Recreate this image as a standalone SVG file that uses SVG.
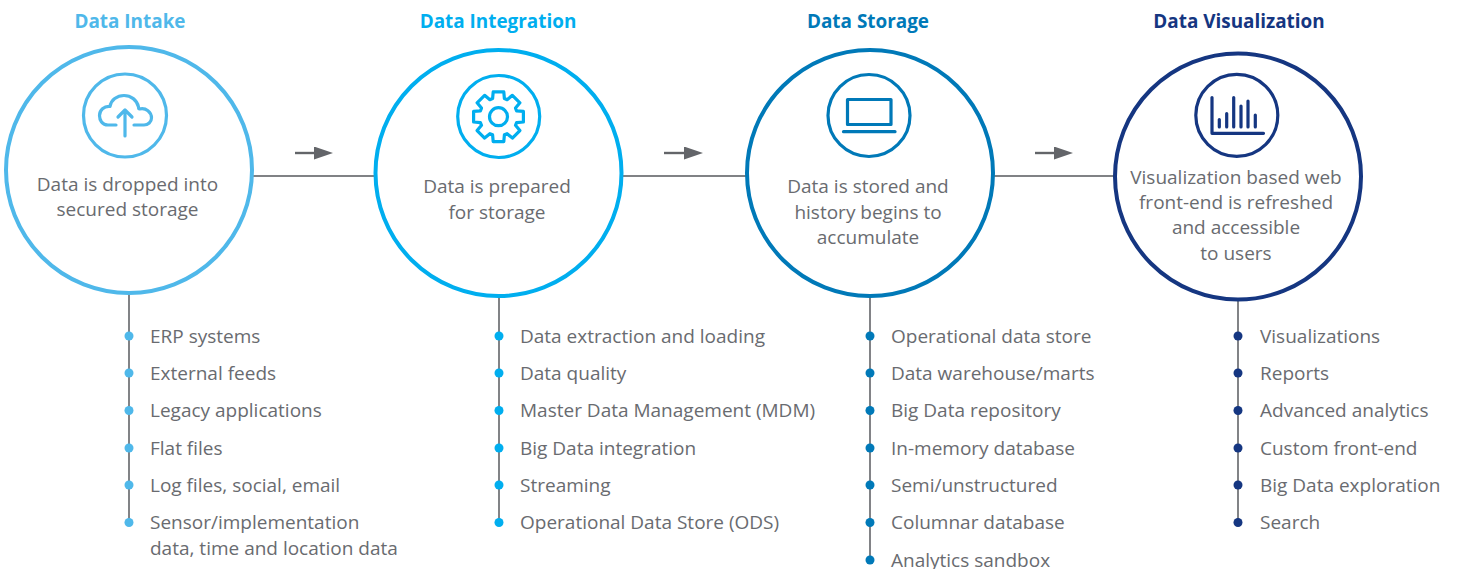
<svg xmlns="http://www.w3.org/2000/svg" width="1457" height="569" viewBox="0 0 1457 569">
<style>
text{font-family:"Open Sans","Noto Sans",sans-serif;fill:#696b70;font-size:19px}
.t{font-weight:700;text-anchor:middle;font-size:18.9px}
.c{text-anchor:middle}
.big{fill:#fff;stroke-width:4}
.ico{fill:none;stroke-width:3.2;stroke-linecap:round;stroke-linejoin:round}
.line{stroke:#808285;stroke-width:2;fill:none}
.vl{stroke:#636569;stroke-width:1.6;fill:none}
.a{stroke:#636569;stroke-width:2.4;fill:none}
.n1{color:#4fb8ea}.n2{color:#00aeef}.n3{color:#0079b8}.n4{color:#153681}
.n1 .big,.n2 .big,.n3 .big,.n4 .big,.n1 .ico,.n2 .ico,.n3 .ico,.n4 .ico{stroke:currentColor}
.n1 .t,.n2 .t,.n3 .t,.n4 .t{fill:currentColor}
.n1 .d,.n2 .d,.n3 .d,.n4 .d{fill:currentColor}
</style>
<defs><marker id="ah" markerUnits="userSpaceOnUse" markerWidth="20" markerHeight="14" refX="0" refY="6.5" orient="auto"><path d="M0 0L19 6.5L0 13Z" fill="#636569"/></marker></defs>
<g id="connectors">
<path class="line" d="M253 176H375M622 176H746M994 176H1114"/>
<path class="vl" d="M129 295V523M499 297V523M870 297V560M1238 300V523"/>
<path class="a" marker-end="url(#ah)" d="M295 153H314"/>
<path class="a" marker-end="url(#ah)" d="M664 153H684"/>
<path class="a" marker-end="url(#ah)" d="M1035 153H1054"/>
</g>
<g id="node-intake" class="n1">
<text class="t" x="130" y="28">Data Intake</text>
<circle class="big" cx="129" cy="170" r="123"/>
<circle class="ico" cx="125" cy="115.500" r="41.500"/>
<path class="ico" d="M116 125H108C102 125 99.500 120 99.500 115.500C99.500 110 104 106 110 106.500C111 100 117 95.500 124 95.500C131 95.500 137 100 138.500 107C138.500 108 139 109 139.500 109C146 107.500 151.500 112 151.500 118C151.500 122 148 125 144 125H134M125 136V110M118 117L125 110L132 117"/>
<text class="c" x="127.500" y="191">Data is dropped into</text>
<text class="c" x="127.500" y="216">secured storage</text>
<g class="d"><circle cx="129" cy="336" r="4.500"/><circle cx="129" cy="373" r="4.500"/><circle cx="129" cy="410.500" r="4.500"/><circle cx="129" cy="448" r="4.500"/><circle cx="129" cy="485" r="4.500"/><circle cx="129" cy="522.500" r="4.500"/></g>
<text x="150" y="343">ERP systems</text>
<text x="150" y="380">External feeds</text>
<text x="150" y="417">Legacy applications</text>
<text x="150" y="455">Flat files</text>
<text x="150" y="492">Log files, social, email</text>
<text x="150" y="529">Sensor/implementation</text>
<text x="150" y="555">data, time and location data</text>
</g>
<g id="node-integration" class="n2">
<text class="t" x="498" y="28">Data Integration</text>
<circle class="big" cx="498.500" cy="173" r="123"/>
<circle class="ico" cx="498.700" cy="116.500" r="41"/>
<path class="ico" transform="translate(498.500 116.700)" d="M-5.900 -18.100L-5.300 -24.900H5.300L5.900 -18.100L8.600 -17L13.900 -21.400L21.400 -13.900L17 -8.600L18.100 -5.900L24.900 -5.300V5.300L18.100 5.900L17 8.600L21.400 13.900L13.900 21.400L8.600 17L5.900 18.100L5.300 24.900H-5.300L-5.900 18.100L-8.600 17L-13.900 21.400L-21.400 13.900L-17 8.600L-18.100 5.900L-24.900 5.300V-5.300L-18.100 -5.900L-17 -8.600L-21.400 -13.900L-13.900 -21.400L-8.600 -17Z"/>
<circle class="ico" cx="498.500" cy="116.700" r="9"/>
<text class="c" x="497" y="193">Data is prepared</text>
<text class="c" x="497" y="219">for storage</text>
<g class="d"><circle cx="499" cy="336" r="4.500"/><circle cx="499" cy="373" r="4.500"/><circle cx="499" cy="410.500" r="4.500"/><circle cx="499" cy="448" r="4.500"/><circle cx="499" cy="485" r="4.500"/><circle cx="499" cy="522.500" r="4.500"/></g>
<text x="520" y="343">Data extraction and loading</text>
<text x="520" y="380">Data quality</text>
<text x="520" y="417">Master Data Management (MDM)</text>
<text x="520" y="455">Big Data integration</text>
<text x="520" y="492">Streaming</text>
<text x="520" y="529">Operational Data Store (ODS)</text>
</g>
<g id="node-storage" class="n3">
<text class="t" x="868" y="28">Data Storage</text>
<circle class="big" cx="870" cy="173" r="123"/>
<circle class="ico" cx="869" cy="115.500" r="41"/>
<rect class="ico" x="847.500" y="99.500" width="43.500" height="25"/>
<path class="ico" d="M843.500 131.700H895"/>
<text class="c" x="868" y="193">Data is stored and</text>
<text class="c" x="868" y="219">history begins to</text>
<text class="c" x="868" y="244">accumulate</text>
<g class="d"><circle cx="870" cy="336" r="4.500"/><circle cx="870" cy="373" r="4.500"/><circle cx="870" cy="410.500" r="4.500"/><circle cx="870" cy="448" r="4.500"/><circle cx="870" cy="485" r="4.500"/><circle cx="870" cy="522.500" r="4.500"/><circle cx="870" cy="560" r="4.500"/></g>
<text x="891" y="343">Operational data store</text>
<text x="891" y="380">Data warehouse/marts</text>
<text x="891" y="417">Big Data repository</text>
<text x="891" y="455">In-memory database</text>
<text x="891" y="492">Semi/unstructured</text>
<text x="891" y="529">Columnar database</text>
<text x="891" y="567">Analytics sandbox</text>
</g>
<g id="node-visualization" class="n4">
<text class="t" x="1239" y="28">Data Visualization</text>
<circle class="big" cx="1238" cy="176.500" r="123"/>
<circle class="ico" cx="1236.800" cy="115.300" r="41"/>
<path class="ico" d="M1212 97.500V133.300H1263.500M1219.300 119.500V127M1226.700 113.500V127M1233.700 97.500V127M1241 106V127M1248 101V127M1255.300 115V127"/>
<text class="c" x="1236" y="184">Visualization based web</text>
<text class="c" x="1236" y="209">front-end is refreshed</text>
<text class="c" x="1236" y="234">and accessible</text>
<text class="c" x="1236" y="260">to users</text>
<g class="d"><circle cx="1238" cy="336" r="4.500"/><circle cx="1238" cy="373" r="4.500"/><circle cx="1238" cy="410.500" r="4.500"/><circle cx="1238" cy="448" r="4.500"/><circle cx="1238" cy="485" r="4.500"/><circle cx="1238" cy="522.500" r="4.500"/></g>
<text x="1260" y="343">Visualizations</text>
<text x="1260" y="380">Reports</text>
<text x="1260" y="417">Advanced analytics</text>
<text x="1260" y="455">Custom front-end</text>
<text x="1260" y="492">Big Data exploration</text>
<text x="1260" y="529">Search</text>
</g>
</svg>
